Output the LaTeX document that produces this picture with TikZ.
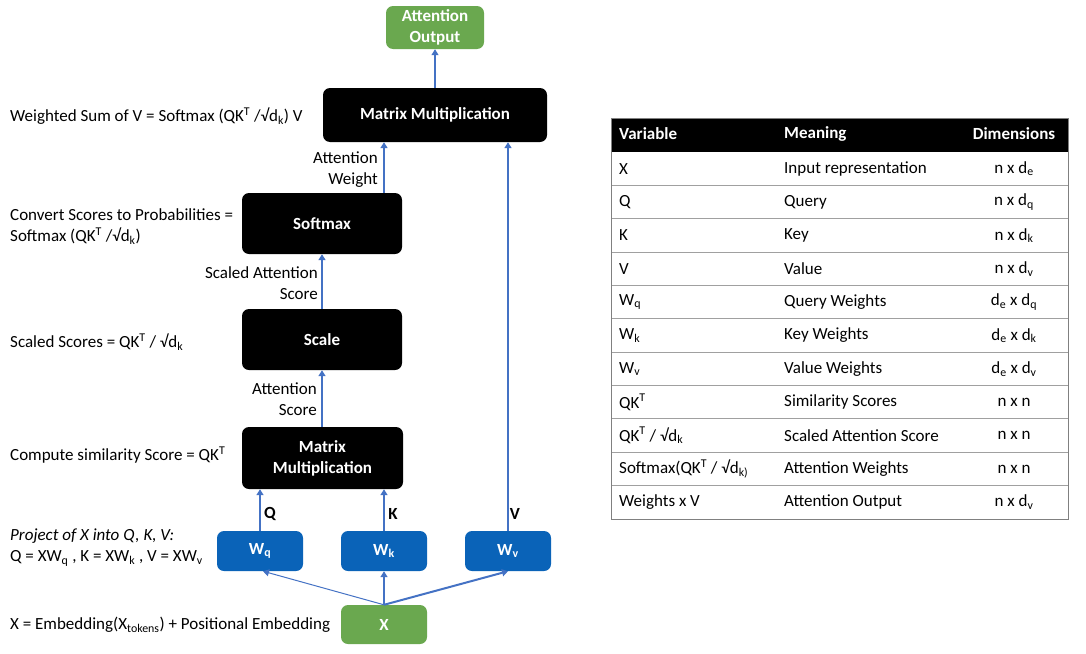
\documentclass[tikz,border=0pt]{standalone}
\usepackage{fontspec}
\setmainfont{Carlito}
\usetikzlibrary{arrows.meta}
\definecolor{boxgreen}{HTML}{6AA84F}
\definecolor{boxblue}{HTML}{0A63B8}
\definecolor{arrowblue}{HTML}{4472C4}
\definecolor{rulegray}{HTML}{A0A0A0}
\definecolor{bordergray}{HTML}{808080}
\newcommand\sbs[1]{\textsubscript{#1}}
\newcommand\sps[1]{\textsuperscript{#1}}
\begin{document}
\begin{tikzpicture}[x=1pt,y=-1pt,
  font=\fontsize{17}{21}\selectfont,
  box/.style={rounded corners=7pt, inner sep=0pt, text=white, align=center,
    font=\fontsize{17}{21}\selectfont\bfseries},
  blackbox/.style={box, fill=black},
  greenbox/.style={box, fill=boxgreen},
  bluebox/.style={box, fill=boxblue, minimum width=86pt, minimum height=40pt},
  arr/.style={draw=arrowblue, line width=2pt, -{Triangle[width=7pt,length=6pt]}},
  thinarr/.style={draw=arrowblue, line width=1pt, -{Triangle[width=7pt,length=6pt]}},
  lbl/.style={inner sep=0pt, align=left, anchor=west},
  rlbl/.style={inner sep=0pt, align=right, anchor=east},
  qkv/.style={inner sep=0pt, font=\fontsize{17}{21}\selectfont\bfseries},
  hdr/.style={inner sep=0pt, text=white, font=\fontsize{17}{21}\selectfont\bfseries},
  cell/.style={inner sep=0pt, anchor=west},
  dcell/.style={inner sep=0pt}
]
\useasboundingbox (0,0) rectangle (1086,653);

% ---- diagram boxes ----
\node[greenbox, minimum width=98pt, minimum height=43pt] (ao) at (435,27.5) {Attention\\Output};
\node[blackbox, minimum width=224pt, minimum height=54pt] (mm2) at (435,115) {Matrix Multiplication};
\node[blackbox, minimum width=160pt, minimum height=61pt] (soft) at (322,223.5) {Softmax};
\node[blackbox, minimum width=160pt, minimum height=61pt] (scale) at (322,339.5) {Scale};
\node[blackbox, minimum width=161pt, minimum height=62pt] (mm1) at (322.5,458) {Matrix\\Multiplication};
\node[bluebox] (wq) at (260,551) {W\sbs{q}};
\node[bluebox] (wk) at (384,551) {W\sbs{k}};
\node[bluebox] (wv) at (508,551) {W\sbs{v}};
\node[greenbox, minimum width=86pt, minimum height=39pt] (x) at (384,624.5) {X};

% ---- connectors ----
\draw[draw=arrowblue, line width=1.2pt, -{Triangle[width=7pt,length=6pt]}] (mm2.north) -- (ao.south);
\draw[arr] (soft.north -| wk.center) -- (mm2.south -| wk.center);
\draw[arr] (scale.north) -- (soft.south);
\draw[arr] (mm1.north -| scale.center) -- (scale.south);
\draw[arr] (wq.north) -- (mm1.south -| wq.north);
\draw[arr] (wk.north) -- (mm1.south -| wk.north);
\draw[arr] (wv.north) -- (mm2.south -| wv.north);
\draw[thinarr] (x.north) -- ([xshift=3pt]wq.south);
\draw[arr] (x.north) -- (wk.south);
\draw[arr] (x.north) -- (wv.south);

% ---- connector labels ----
\node[rlbl] (lw) at (378,169.5) {Attention\\Weight};
\node[rlbl] (lsas) at (318,283) {Scaled Attention\\Score};
\node[rlbl] (las) at (317,399.5) {Attention\\Score};
\node[qkv] (lq) at (270,514) {Q};
\node[qkv] (lk) at (393,514) {K};
\node[qkv] (lv) at (515,514) {V};

% ---- left-hand descriptions ----
\node[lbl] (d1) at (10,116) {Weighted Sum of V = Softmax (QK\sps{T} /√d\sbs{k}) V};
\node[lbl] (d2) at (10,226.5) {Convert Scores to Probabilities =\\Softmax (QK\sps{T} /√d\sbs{k})};
\node[lbl] (d3) at (10,342) {Scaled Scores = QK\sps{T} / √d\sbs{k}};
\node[lbl] (d4) at (10,455) {Compute similarity Score = QK\sps{T}};
\node[lbl] (d5) at (10,547.5) {\textit{Project of X into Q, K, V:}\\Q = XW\sbs{q} , K = XW\sbs{k} , V = XW\sbs{v}};
\node[lbl] (d6) at (10,625) {X = Embedding(X\sbs{tokens}) + Positional Embedding};

% ---- table ----
\fill[black] (611,118) rectangle (1068,152);
\foreach \i in {1,...,10} {
  \draw[rulegray, line width=0.8pt] (611,{152+33.36*\i}) -- (1068,{152+33.36*\i});
}
\draw[bordergray, line width=1pt] (611,118) rectangle (1068,519);
\node[hdr, anchor=west] (h1) at (619,134) {Variable};
\node[hdr, anchor=west] (h2) at (784,134) {Meaning};
\node[hdr] (h3) at (1014,134) {Dimensions};

\node[cell] (r1a) at (619,168.7) {X};
\node[cell] (r1b) at (784,168.7) {Input representation};
\node[dcell] (r1c) at (1014,168.7) {n x d\sbs{e}};
\node[cell] (r2a) at (619,202.0) {Q};
\node[cell] (r2b) at (784,202.0) {Query};
\node[dcell] (r2c) at (1014,202.0) {n x d\sbs{q}};
\node[cell] (r3a) at (619,235.4) {K};
\node[cell] (r3b) at (784,235.4) {Key};
\node[dcell] (r3c) at (1014,235.4) {n x d\sbs{k}};
\node[cell] (r4a) at (619,268.8) {V};
\node[cell] (r4b) at (784,268.8) {Value};
\node[dcell] (r4c) at (1014,268.8) {n x d\sbs{v}};
\node[cell] (r5a) at (619,302.1) {W\sbs{q}};
\node[cell] (r5b) at (784,302.1) {Query Weights};
\node[dcell] (r5c) at (1014,302.1) {d\sbs{e} x d\sbs{q}};
\node[cell] (r6a) at (619,335.5) {W\sbs{k}};
\node[cell] (r6b) at (784,335.5) {Key Weights};
\node[dcell] (r6c) at (1014,335.5) {d\sbs{e} x d\sbs{k}};
\node[cell] (r7a) at (619,368.9) {W\sbs{v}};
\node[cell] (r7b) at (784,368.9) {Value Weights};
\node[dcell] (r7c) at (1014,368.9) {d\sbs{e} x d\sbs{v}};
\node[cell] (r8a) at (619,402.2) {QK\sps{T}};
\node[cell] (r8b) at (784,402.2) {Similarity Scores};
\node[dcell] (r8c) at (1014,402.2) {n x n};
\node[cell] (r9a) at (619,435.6) {QK\sps{T} / √d\sbs{k}};
\node[cell] (r9b) at (784,435.6) {Scaled Attention Score};
\node[dcell] (r9c) at (1014,435.6) {n x n};
\node[cell] (r10a) at (619,469.0) {Softmax(QK\sps{T} / √d\sbs{k)}};
\node[cell] (r10b) at (784,469.0) {Attention Weights};
\node[dcell] (r10c) at (1014,469.0) {n x n};
\node[cell] (r11a) at (619,502.3) {Weights x V};
\node[cell] (r11b) at (784,502.3) {Attention Output};
\node[dcell] (r11c) at (1014,502.3) {n x d\sbs{v}};
\end{tikzpicture}
\end{document}
